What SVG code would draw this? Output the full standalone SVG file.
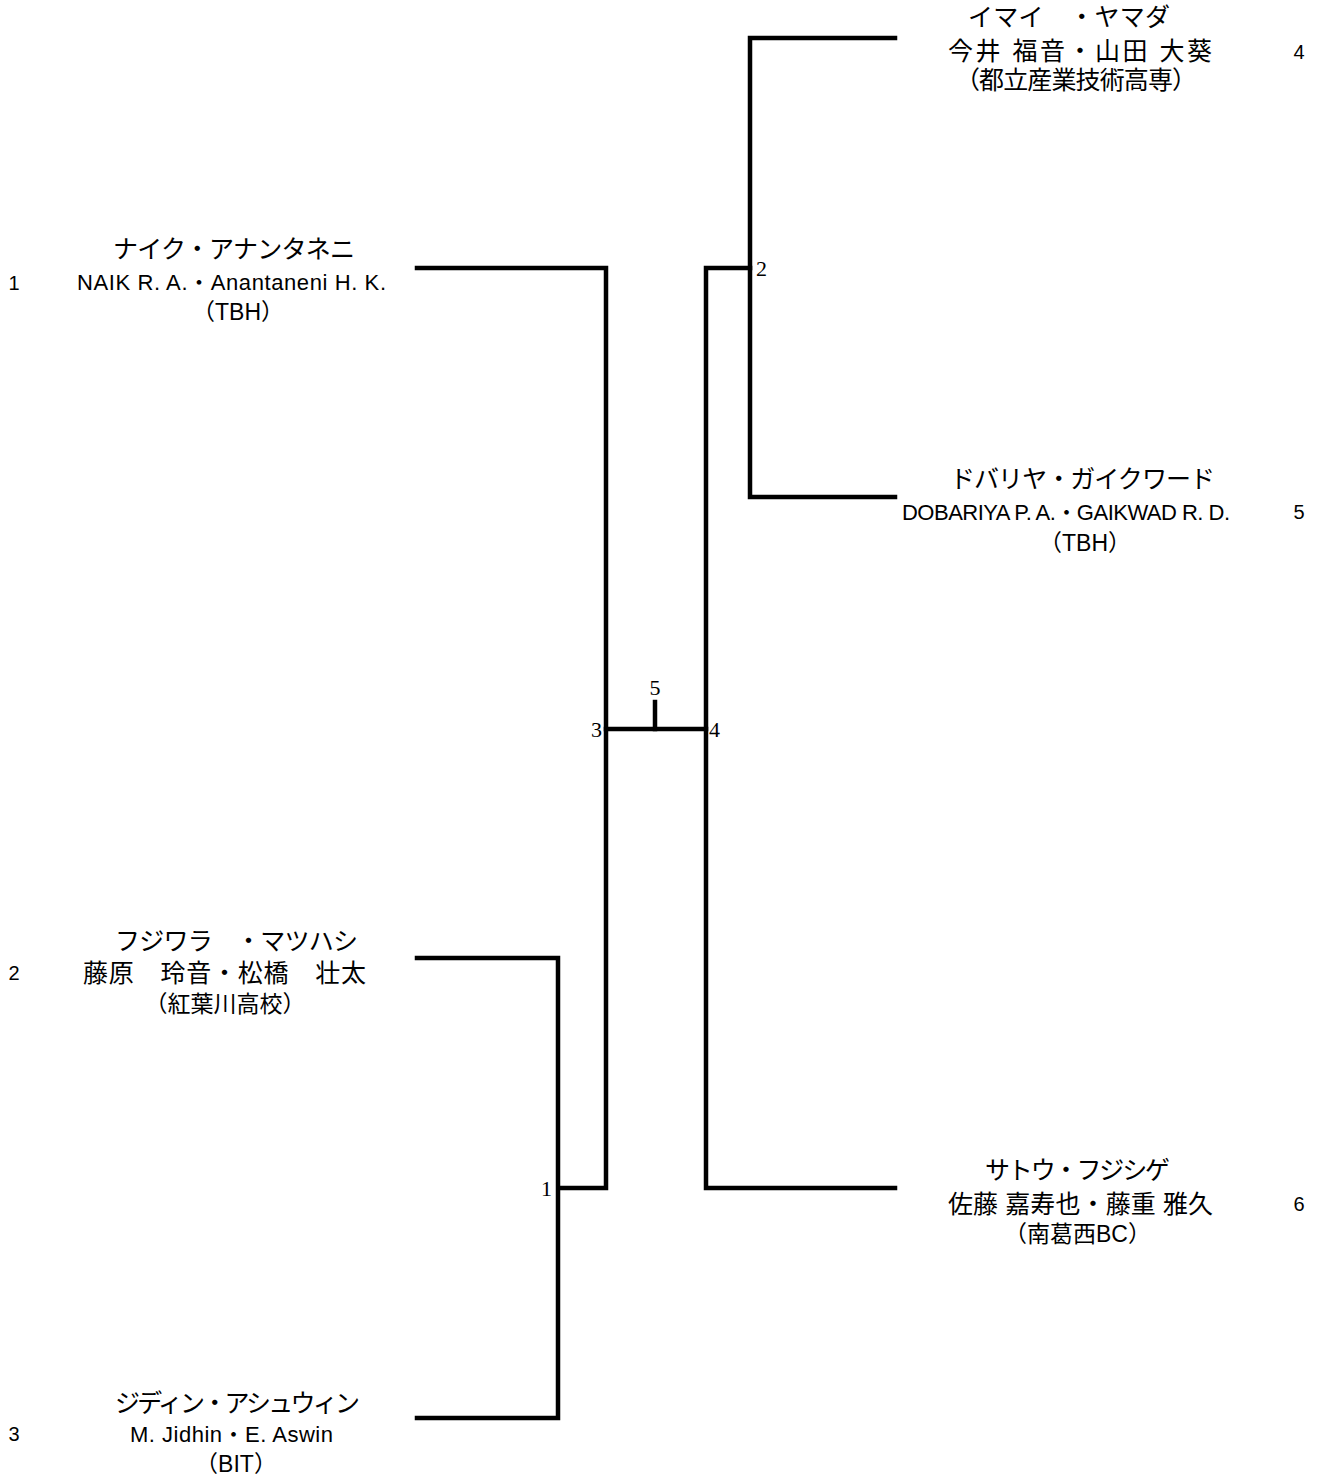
<svg xmlns="http://www.w3.org/2000/svg" width="1322" height="1476" viewBox="0 0 1322 1476">
<style>
.t{font-family:"Liberation Sans","Noto Sans CJK JP",sans-serif;font-size:22px;fill:#000;text-anchor:middle}
.p{font-family:"Liberation Sans","Noto Sans CJK JP",sans-serif;font-size:23px;fill:#000;text-anchor:middle}
.j{font-family:"Liberation Sans","Noto Sans CJK JP",sans-serif;font-size:25px;fill:#000;text-anchor:middle}
.s{font-family:"Liberation Sans","Noto Sans CJK JP",sans-serif;font-size:20px;fill:#000;text-anchor:middle}
.m{font-family:"Liberation Serif","Noto Serif CJK JP",serif;font-size:22px;fill:#000}
.ln{fill:none;stroke:#000;stroke-width:4.5;stroke-linecap:square}
</style>
<rect width="1322" height="1476" fill="#fff"/>
<g id="connectors">
<path class="ln" d="M417 268H606V1188H559"/>
<path class="ln" d="M417 958H558V1418H417"/>
<path class="ln" d="M895 38H750V497H895"/>
<path class="ln" d="M750 268H706V1188H895"/>
<path class="ln" d="M606 729H706"/>
<path class="ln" d="M655 729V702"/>
</g>
<g id="matches">
<text class="m" x="756" y="276">2</text>
<text class="m" x="655" y="695" text-anchor="middle">5</text>
<text class="m" x="602" y="737" text-anchor="end">3</text>
<text class="m" x="709" y="737">4</text>
<text class="m" x="552" y="1196" text-anchor="end">1</text>
</g>
<g id="entry1">
<text class="s" x="14" y="290">1</text>
<text class="j" x="234" y="258" textLength="242">ナイク・アナンタネニ</text>
<text class="t" x="231.5" y="290" textLength="309">NAIK R. A.・Anantaneni H. K.</text>
<text class="p" x="238" y="320">（TBH）</text>
</g>
<g id="entry2">
<text class="s" x="14" y="980">2</text>
<text class="j" x="236.5" y="950" textLength="243">フジワラ　・マツハシ</text>
<text class="j" x="224.5" y="982" textLength="283">藤原　玲音・松橋　壮太</text>
<text class="p" x="225" y="1012">（紅葉川高校）</text>
</g>
<g id="entry3">
<text class="s" x="14" y="1441">3</text>
<text class="j" x="237.5" y="1412" textLength="245">ジディン・アシュウィン</text>
<text class="t" x="231.5" y="1442" textLength="203">M. Jidhin・E. Aswin</text>
<text class="p" x="236" y="1472">（BIT）</text>
</g>
<g id="entry4">
<text class="s" x="1299" y="59">4</text>
<text class="j" x="1069" y="26" textLength="202">イマイ　・ヤマダ</text>
<text class="j" x="1080" y="60" textLength="264">今井 福音・山田 大葵</text>
<text class="j" x="1076" y="89" textLength="242">（都立産業技術高専）</text>
</g>
<g id="entry5">
<text class="s" x="1299" y="519">5</text>
<text class="j" x="1082.5" y="488" textLength="265">ドバリヤ・ガイクワード</text>
<text class="t" x="1066" y="520" textLength="328">DOBARIYA P. A.・GAIKWAD R. D.</text>
<text class="p" x="1085" y="551">（TBH）</text>
</g>
<g id="entry6">
<text class="s" x="1299" y="1211">6</text>
<text class="j" x="1077.5" y="1179" textLength="185">サトウ・フジシゲ</text>
<text class="j" x="1080.5" y="1213" textLength="265">佐藤 嘉寿也・藤重 雅久</text>
<text class="p" x="1077.5" y="1242">（南葛西BC）</text>
</g>
</svg>
